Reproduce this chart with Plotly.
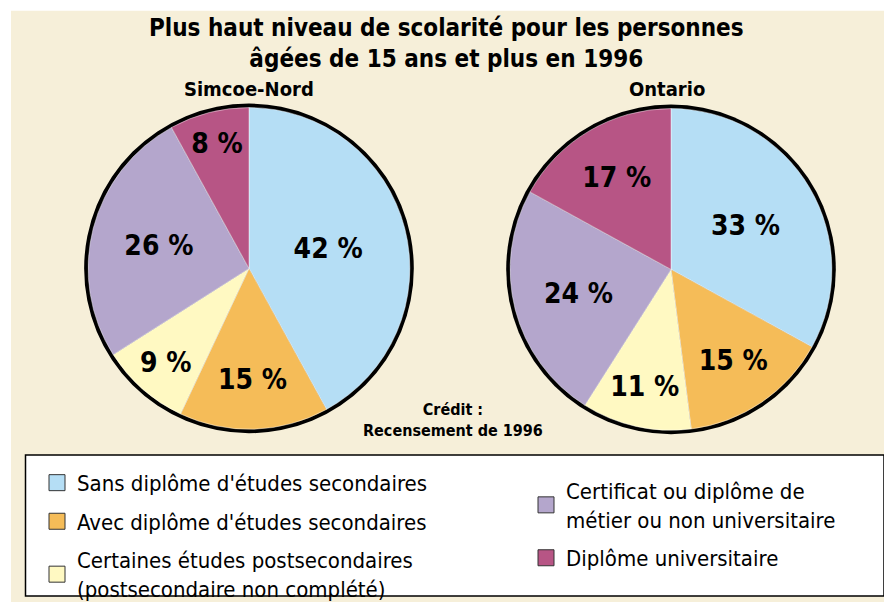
import plotly.graph_objects as go

W, H = 884, 610

categories = [
    "Sans diplôme d'études secondaires",
    "Avec diplôme d'études secondaires",
    "Certaines études postsecondaires<br>(postsecondaire non complété)",
    "Certificat ou diplôme de<br>métier ou non universitaire",
    "Diplôme universitaire",
]
colors = ["#b5def5", "#f5bc58", "#fff9c2", "#b4a6cc", "#b75585"]
simcoe_values = [42, 15, 9, 26, 8]
ontario_values = [33, 15, 11, 24, 17]
region_names = ["Simcoe-Nord", "Ontario"]
legend_columns = [1, 1, 1, 2, 2]

FONT = "DejaVu Sans Condensed, Liberation Sans Narrow, sans-serif"

def px_x(v):
    return v / W

def px_y(v):
    return 1 - v / H

def domain(cx, cy, r):
    return dict(x=[px_x(cx - r), px_x(cx + r)], y=[px_y(cy + r), px_y(cy - r)])

centers = [(249, 272), (671, 273)]
R = 163
RING = 4

fig = go.Figure()

for (cx, cy), name, vals in zip(centers, region_names, [simcoe_values, ontario_values]):
    # black outer ring (background disc)
    fig.add_trace(go.Pie(
        values=[1], labels=["ring"], marker=dict(colors=["#000000"], line=dict(width=0)),
        textinfo="none", hoverinfo="skip", showlegend=False, sort=False,
        domain=domain(cx, cy, R + RING),
    ))
    fig.add_trace(go.Pie(
        labels=categories, values=vals, sort=False, direction="clockwise", rotation=0,
        marker=dict(colors=colors, line=dict(width=0.8, color="rgba(255,255,255,0.55)")),
        texttemplate="%{value} %", textposition="inside",
        insidetextorientation="horizontal",
        textfont=dict(family=FONT, size=28, color="black", weight="bold"),
        showlegend=False, name=name,
        domain=domain(cx, cy, R),
    ))

# legend entries
for i, (cat, col, c) in enumerate(zip(categories, colors, legend_columns)):
    fig.add_trace(go.Scatter(
        x=[None], y=[None], mode="markers", name=cat,
        marker=dict(symbol="square", size=16, color=col, line=dict(color="#333333", width=1)),
        legend="legend" if c == 1 else "legend2",
        legendgroup=f"g{i}", showlegend=True,
    ))

def ann(text, x, y, size, weight="bold"):
    return dict(text=text, x=px_x(x), y=px_y(y), xref="paper", yref="paper",
                xanchor="center", yanchor="middle", showarrow=False, align="center",
                font=dict(family=FONT, size=size, color="black", weight=weight))

annotations = [
    ann("Plus haut niveau de scolarité pour les personnes<br>âgées de 15 ans et plus en 1996", 446, 44, 24),
    ann(region_names[0], 249, 90, 20),
    ann(region_names[1], 667, 90, 20),
    ann("Crédit :<br>Recensement de 1996", 453, 426, 16),
]

shapes = [
    dict(type="rect", xref="paper", yref="paper", x0=px_x(11), x1=1, y0=0, y1=px_y(11),
         fillcolor="#f6efd9", line=dict(width=0), layer="below"),
    dict(type="rect", xref="paper", yref="paper", x0=px_x(25.5), x1=px_x(884), y0=px_y(604), y1=px_y(461),
         fillcolor="white", line=dict(color="black", width=1.5), layer="below"),
]

legend_common = dict(
    bgcolor="rgba(0,0,0,0)", borderwidth=0, orientation="v",
    font=dict(family=FONT, size=22, color="black"),
    tracegroupgap=7, itemsizing="trace", xanchor="left", yanchor="top",
)

fig.update_layout(
    width=W, height=H, margin=dict(l=0, r=0, t=0, b=0),
    paper_bgcolor="white", plot_bgcolor="rgba(0,0,0,0)",
    xaxis=dict(visible=False), yaxis=dict(visible=False),
    shapes=shapes, annotations=annotations,
    legend=dict(x=px_x(37), y=px_y(468), **legend_common),
    legend2=dict(x=px_x(526), y=px_y(476), **legend_common),
    uniformtext=dict(minsize=28, mode="show"),
    showlegend=True,
)

post = (
    "document.documentElement.style.margin='0';"
    "document.body.style.margin='0';"
)

fig.write_html("out.html", post_script=post, config={"displayModeBar": False})
